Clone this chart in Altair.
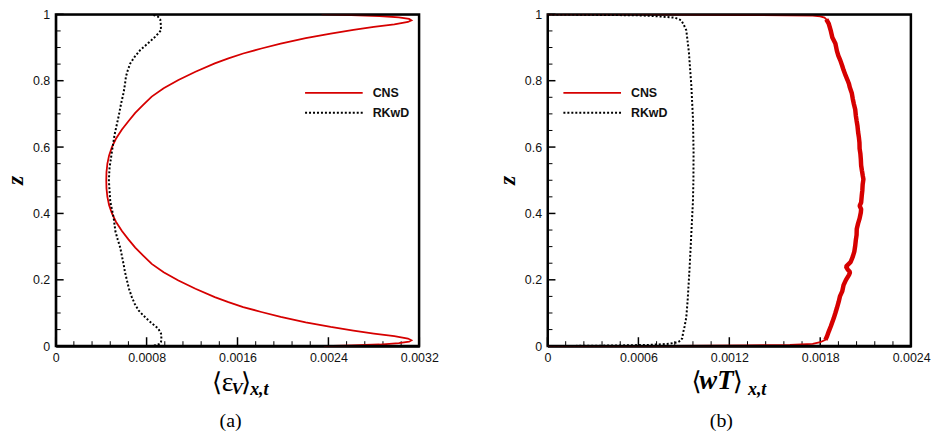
import altair as alt
import pandas as pd

# ---------------- data ----------------
# panel (a): <eps_V>_{x,t}
a_cns_z = [0.0, 0.002, 0.005, 0.009, 0.014, 0.018, 0.023, 0.03, 0.038, 0.047, 0.058, 0.072, 0.088,
           0.103, 0.118, 0.133, 0.148, 0.173, 0.198, 0.223, 0.248, 0.273, 0.297, 0.322, 0.347, 0.375,
           0.4, 0.425, 0.45, 0.475, 0.5, 0.525, 0.55, 0.575, 0.6, 0.625, 0.653, 0.678, 0.703, 0.727,
           0.752, 0.777, 0.802, 0.827, 0.852, 0.867, 0.882, 0.897, 0.912, 0.928, 0.942, 0.953, 0.962,
           0.97, 0.977, 0.982, 0.986, 0.991, 0.995, 0.998, 1.0]
a_cns_v = [0.00236, 0.0026, 0.00285, 0.00302, 0.00311, 0.00313, 0.0031, 0.00298, 0.0028, 0.00262,
           0.00242, 0.0022, 0.00198, 0.00181, 0.00165, 0.00152, 0.0014, 0.00123, 0.00108, 0.00095,
           0.000845, 0.00077, 0.0007, 0.00064, 0.000583, 0.00053, 0.000495, 0.00047, 0.000455,
           0.000447, 0.000445, 0.000447, 0.000455, 0.00047, 0.000495, 0.00053, 0.000583, 0.00064,
           0.0007, 0.00077, 0.000845, 0.00095, 0.00108, 0.00123, 0.0014, 0.00152, 0.00165, 0.00181,
           0.00198, 0.0022, 0.00242, 0.00262, 0.0028, 0.00298, 0.0031, 0.00313, 0.00311, 0.00302,
           0.00285, 0.0026, 0.00234]
a_rk_z = [0.0, 0.003, 0.008, 0.013, 0.025, 0.038, 0.053, 0.065, 0.078, 0.093, 0.108, 0.128, 0.148,
          0.173, 0.198, 0.223, 0.248, 0.273, 0.297, 0.322, 0.347, 0.387, 0.437, 0.5, 0.537, 0.587,
          0.637, 0.693, 0.73, 0.763, 0.79, 0.812, 0.832, 0.852, 0.872, 0.892, 0.912, 0.932, 0.945,
          0.952, 0.97, 0.985, 0.993, 1.0]
a_rk_v = [0.00083, 0.00089, 0.00092, 0.000927, 0.00093, 0.000927, 0.000903, 0.00086, 0.000816,
          0.00077, 0.000729, 0.000695, 0.00067, 0.000645, 0.000627, 0.00061, 0.000597, 0.000582,
          0.000568, 0.000545, 0.000525, 0.00051, 0.00048, 0.000468, 0.000474, 0.000495, 0.000518,
          0.000554, 0.000575, 0.000597, 0.00061, 0.000618, 0.000635, 0.000656, 0.000695, 0.000743,
          0.00081, 0.000874, 0.00091, 0.000927, 0.000925, 0.00092, 0.0009, 0.000845]

# panel (b): <wT>_{x,t}
b_cns_z = [0.0, 0.001, 0.002, 0.004, 0.007, 0.012, 0.019, 0.03, 0.044, 0.06, 0.084, 0.1, 0.115,
           0.134, 0.15, 0.165, 0.184, 0.2, 0.215, 0.223, 0.232, 0.24, 0.253, 0.27, 0.285, 0.303,
           0.32, 0.335, 0.353, 0.37, 0.385, 0.403, 0.413, 0.423, 0.433, 0.453, 0.47, 0.487, 0.503,
           0.513, 0.53, 0.545, 0.563, 0.58, 0.595, 0.613, 0.63, 0.645, 0.663, 0.68, 0.695, 0.713,
           0.73, 0.745, 0.763, 0.78, 0.79, 0.802, 0.815, 0.832, 0.845, 0.862, 0.875, 0.89, 0.912,
           0.93, 0.95, 0.972, 0.985, 0.99, 0.994, 0.996, 0.998, 0.999, 1.0]
b_cns_v = [0.0, 0.0008, 0.0013, 0.0016, 0.00175, 0.0018, 0.001834, 0.001845, 0.001856, 0.00187,
           0.001889, 0.0019, 0.00191, 0.001922, 0.00193, 0.001945, 0.001954, 0.00197, 0.00199,
           0.001997, 0.00198, 0.00197, 0.002, 0.002015, 0.002025, 0.002031, 0.002035, 0.00204,
           0.002041, 0.00205, 0.00206, 0.002068, 0.00207, 0.00206, 0.00207, 0.002074, 0.002078,
           0.00208, 0.002085, 0.002081, 0.002075, 0.00207, 0.002068, 0.002065, 0.00206, 0.002059,
           0.002055, 0.00205, 0.002046, 0.00204, 0.002035, 0.002031, 0.002022, 0.002015, 0.002008,
           0.001995, 0.00199, 0.00198, 0.001968, 0.001954, 0.001945, 0.001932, 0.00192, 0.00191,
           0.0019, 0.00188, 0.00187, 0.001856, 0.00184, 0.001828, 0.0018, 0.00175, 0.0013, 0.0008,
           0.0]
b_rk_z = [0.0, 0.001, 0.002, 0.004, 0.007, 0.012, 0.017, 0.025, 0.038, 0.06, 0.087, 0.138, 0.237,
          0.337, 0.437, 0.5, 0.587, 0.687, 0.787, 0.887, 0.952, 0.968, 0.982, 0.99, 0.995, 0.997,
          0.9985, 1.0]
b_rk_v = [0.0, 0.0002, 0.00045, 0.00068, 0.0008, 0.00086, 0.00088, 0.00089, 0.000894, 0.000905,
          0.000916, 0.000925, 0.000938, 0.000949, 0.00096, 0.000963, 0.000964, 0.00096, 0.000949,
          0.000933, 0.000916, 0.0009, 0.000883, 0.00084, 0.0007, 0.0006, 0.0003, 0.0]

# ticks
a_major_x = [0, 0.0008, 0.0016, 0.0024, 0.0032]
a_minor_x = [0.00016, 0.00032, 0.00048, 0.00064, 0.00096, 0.00112, 0.00128, 0.00144, 0.00176,
             0.00192, 0.00208, 0.00224, 0.00256, 0.00272, 0.00288, 0.00304]
b_major_x = [0, 0.0006, 0.0012, 0.0018, 0.0024]
b_minor_x = [0.00012, 0.00024, 0.00036, 0.00048, 0.00072, 0.00084, 0.00096, 0.00108, 0.00132,
             0.00144, 0.00156, 0.00168, 0.00192, 0.00204, 0.00216, 0.00228]
major_y = [0, 0.2, 0.4, 0.6, 0.8, 1.0]
minor_y = [0.05, 0.1, 0.15, 0.25, 0.3, 0.35, 0.45, 0.5, 0.55, 0.65, 0.7, 0.75, 0.85, 0.9, 0.95]

series_names = ["CNS", "RKwD"]

# ---------------- styling ----------------
W, H = 366, 334
RED = "#d60000"
SANS = "Liberation Sans"
SERIF = "Liberation Serif"
LBL = 12.5


def df(z, v):
    return pd.DataFrame({"z": z, "v": v, "i": list(range(len(z)))})


def panel(cns, rk, xdom, major_x, minor_x, leg_x, title_parts, caption, cap_x, thick=False):
    xs = alt.Scale(domain=xdom, nice=False, zero=False)
    ys = alt.Scale(domain=[0, 1], nice=False, zero=False)
    one = pd.DataFrame({"a": [0]})

    axis_layer = alt.Chart(pd.DataFrame({"t": major_x})).mark_point(opacity=0).encode(
        x=alt.X("t:Q", scale=xs, title=None,
                axis=alt.Axis(values=major_x, format="~g", domain=True, domainColor="black",
                              domainWidth=2, ticks=False, grid=False,
                              labelFont=SANS, labelFontSize=LBL, labelColor="#111",
                              labelPadding=5, labelFlush=False, labelOverlap=False)),
        y=alt.value(H),
    )
    yaxis_layer = alt.Chart(pd.DataFrame({"t": major_y})).mark_point(opacity=0).encode(
        y=alt.Y("t:Q", scale=ys, title=None,
                axis=alt.Axis(values=major_y, format="~g", domain=True, domainColor="black",
                              domainWidth=2, ticks=False, grid=False,
                              labelFont=SANS, labelFontSize=LBL, labelColor="#111",
                              labelPadding=6)),
        x=alt.value(0),
    )
    xmaj = alt.Chart(pd.DataFrame({"t": major_x})).mark_rule(color="black", strokeWidth=1.5).encode(
        x=alt.X("t:Q", scale=xs), y=alt.value(H), y2=alt.value(H - 9))
    xmin = alt.Chart(pd.DataFrame({"t": minor_x})).mark_rule(color="black", strokeWidth=1).encode(
        x=alt.X("t:Q", scale=xs), y=alt.value(H), y2=alt.value(H - 5))
    ymaj = alt.Chart(pd.DataFrame({"t": major_y})).mark_rule(color="black", strokeWidth=1.5).encode(
        y=alt.Y("t:Q", scale=ys), x=alt.value(0), x2=alt.value(8))
    ymin = alt.Chart(pd.DataFrame({"t": minor_y})).mark_rule(color="black", strokeWidth=1).encode(
        y=alt.Y("t:Q", scale=ys), x=alt.value(0), x2=alt.value(5))

    cns_line = alt.Chart(cns).mark_line(color=RED, strokeWidth=1.8, clip=True).encode(
        x=alt.X("v:Q", scale=xs), y=alt.Y("z:Q", scale=ys), order="i:Q")
    layers = [axis_layer, yaxis_layer, xmaj, xmin, ymaj, ymin]
    if thick:
        thick_line = alt.Chart(cns).transform_filter(
            (alt.datum.z > 0.012) & (alt.datum.z < 0.99)
        ).mark_line(color=RED, strokeWidth=4.5, clip=True, strokeJoin="bevel").encode(
            x=alt.X("v:Q", scale=xs), y=alt.Y("z:Q", scale=ys), order="i:Q")
        layers += [cns_line, thick_line]
    else:
        layers += [cns_line]
    rk_line = alt.Chart(rk).mark_line(color="black", strokeWidth=2, strokeDash=[2, 2], clip=True).encode(
        x=alt.X("v:Q", scale=xs), y=alt.Y("z:Q", scale=ys), order="i:Q")
    layers.append(rk_line)

    # frame (four rules just inside the plot edges)
    layers += [
        alt.Chart(one).mark_rule(color="black", strokeWidth=1.5).encode(
            x=alt.value(0.75), x2=alt.value(W - 0.75), y=alt.value(0.75)),
        alt.Chart(one).mark_rule(color="black", strokeWidth=1.5).encode(
            x=alt.value(0.75), x2=alt.value(W - 0.75), y=alt.value(H - 0.75)),
        alt.Chart(one).mark_rule(color="black", strokeWidth=1.5).encode(
            x=alt.value(0.75), y=alt.value(0.75), y2=alt.value(H - 0.75)),
        alt.Chart(one).mark_rule(color="black", strokeWidth=1.5).encode(
            x=alt.value(W - 0.75), y=alt.value(0.75), y2=alt.value(H - 0.75)),
    ]

    # legend
    leg = [
        alt.Chart(one).mark_rule(color=RED, strokeWidth=1.8).encode(
            x=alt.value(leg_x), x2=alt.value(leg_x + 58), y=alt.value(79)),
        alt.Chart(one).mark_rule(color="black", strokeWidth=2, strokeDash=[2, 2]).encode(
            x=alt.value(leg_x), x2=alt.value(leg_x + 58), y=alt.value(99)),
        alt.Chart(one).mark_text(text=series_names[0], font=SANS, fontWeight="bold", fontSize=LBL,
                                 align="left", baseline="middle", color="#111").encode(
            x=alt.value(leg_x + 68), y=alt.value(79)),
        alt.Chart(one).mark_text(text=series_names[1], font=SANS, fontWeight="bold", fontSize=LBL,
                                 align="left", baseline="middle", color="#111").encode(
            x=alt.value(leg_x + 68), y=alt.value(99)),
    ]
    layers += leg

    # y title
    layers.append(alt.Chart(one).mark_text(text="z", font=SERIF, fontStyle="italic", fontWeight="bold",
                                           fontSize=24, angle=270, align="center",
                                           baseline="middle", color="black").encode(
        x=alt.value(-40), y=alt.value(167)))
    # x title pieces
    for (txt, px, py, font, size, style, weight) in title_parts:
        layers.append(alt.Chart(one).mark_text(text=txt, font=font, fontSize=size, fontStyle=style,
                                               fontWeight=weight, align="center", baseline="middle",
                                               color="black").encode(
            x=alt.value(px), y=alt.value(py)))
    # caption
    layers.append(alt.Chart(one).mark_text(text=caption, font=SERIF, fontSize=20, align="center",
                                           baseline="middle", color="black").encode(
        x=alt.value(cap_x), y=alt.value(409)))
    return alt.layer(*layers).properties(width=W, height=H)


a_title = [
    ("⟨", 162.5, 371, "DejaVu Sans", 26, "normal", "normal"),
    ("ε", 173, 371, SERIF, 28, "normal", "normal"),
    ("V", 182.5, 377, SERIF, 17, "italic", "bold"),
    ("⟩", 191.5, 371, "DejaVu Sans", 26, "normal", "normal"),
    ("x,t", 205, 378, SERIF, 18, "italic", "bold"),
]
b_title = [
    ("⟨", 150, 370, "DejaVu Sans", 26, "normal", "normal"),
    ("wT", 170, 369, SERIF, 27, "italic", "bold"),
    ("⟩", 191.5, 370, "DejaVu Sans", 26, "normal", "normal"),
    ("x,t", 211, 378, SERIF, 18, "italic", "bold"),
]

left = panel(df(a_cns_z, a_cns_v), df(a_rk_z, a_rk_v), [0, 0.0032], a_major_x, a_minor_x, 251,
             a_title, "(a)", 176)
right = panel(df(b_cns_z, b_cns_v), df(b_rk_z, b_rk_v), [0, 0.0024], b_major_x, b_minor_x, 16,
              b_title, "(b)", 175, thick=True)

chart = alt.hconcat(left, right, spacing=55).properties(
    padding={"left": -5, "top": -2, "right": 0, "bottom": -2}
).configure(
    background="white",
    view=alt.ViewConfig(stroke="black", strokeWidth=2),
)

chart.save("out.html", embed_options={"renderer": "svg", "actions": False})
